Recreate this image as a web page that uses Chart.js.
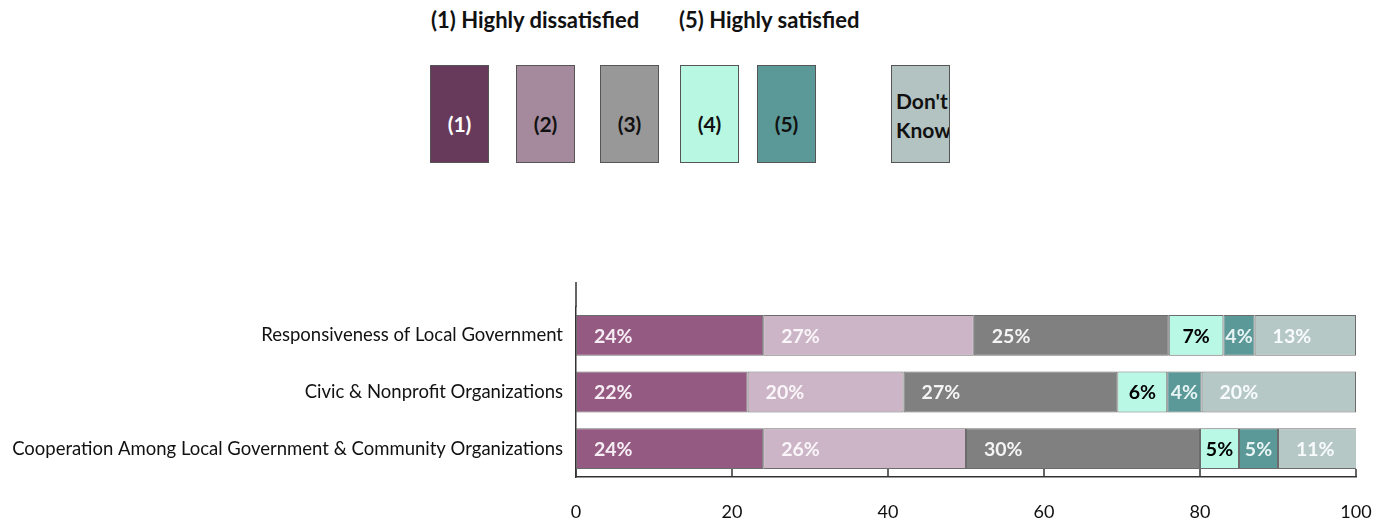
<!DOCTYPE html>
<html lang="en">
<head>
    <meta charset="UTF-8">
    <title>Satisfaction ratings</title>
    <script src="https://cdn.jsdelivr.net/npm/chart.js"></script>
    <style>
        html, body { margin: 0; padding: 0; background: #fff; }
        body { width: 1390px; height: 521px; position: relative; overflow: hidden; font-family: Lato, sans-serif; color: #111; }
        #chart-wrap { position: absolute; left: 0; top: 0; width: 1390px; height: 521px; }
        .scale-note { position: absolute; top: 9px; font-size: 22px; font-weight: bold; line-height: 22px; white-space: nowrap; }
        .key-box { position: absolute; top: 65px; width: 57px; height: 96px; border: 1px solid #555; box-sizing: content-box;
                   font-size: 21px; font-weight: bold; line-height: 22px; text-align: center; overflow: hidden; }
        .key-box span { display: block; padding-top: 47px; }
        .key-box.dk { text-align: left; }
        .key-box.dk span { padding-top: 20px; padding-left: 4px; line-height: 29px; }
    </style>
</head>
<body>

<div class="scale-note" style="left:431px">(1) Highly dissatisfied</div>
<div class="scale-note" style="left:679px">(5) Highly satisfied</div>
<div id="key"></div>

<div id="chart-wrap"><canvas id="rating-chart" width="1390" height="521"></canvas></div>

<script>
    // data
    const categories = [
        'Responsiveness of Local Government',
        'Civic & Nonprofit Organizations',
        'Cooperation Among Local Government & Community Organizations'
    ];
    const seriesNames = ['(1)', '(2)', '(3)', '(4)', '(5)', "Don't Know"];
    const rating1 = [24, 22, 24];
    const rating2 = [27, 20, 26];
    const rating3 = [25, 27.4, 30];
    const rating4 = [7, 6.4, 5];
    const rating5 = [4, 4.4, 5];
    const dontKnow = [13, 19.8, 11];
    const xTicks = [0, 20, 40, 60, 80, 100];

    // styles
    const barColors = ['#955a82', '#ccb5c7', '#808080', '#b8f8e4', '#5b9898', '#b6c8c6'];
    const keyColors = ['#673a5b', '#a48a9c', '#989898', '#b8f8e2', '#5b9898', '#b3c3c2'];
    const keyText = ['#fff', '#111', '#111', '#111', '#111', '#111'];
    const keyLeft = [430, 516, 600, 680, 757, 891];
    const labelColors = ['#f6eef4', '#faf6f9', '#f4f4f4', '#000', '#e8f4f4', '#f8fbfb'];

    const values = [rating1, rating2, rating3, rating4, rating5, dontKnow];

    // the key above the chart
    const key = document.getElementById('key');
    seriesNames.forEach((name, i) => {
        const box = document.createElement('div');
        box.className = 'key-box' + (i === 5 ? ' dk' : '');
        box.style.left = keyLeft[i] + 'px';
        box.style.background = keyColors[i];
        box.style.color = keyText[i];
        const span = document.createElement('span');
        span.innerHTML = i === 5 ? "Don't<br>Know" : name;
        box.appendChild(span);
        key.appendChild(box);
    });

    // labels on the bar segments
    const segmentLabels = {
        id: 'segmentLabels',
        afterDatasetsDraw(chart) {
            const ctx = chart.ctx;
            ctx.save();
            ctx.font = 'bold 19.5px Lato';
            ctx.textBaseline = 'middle';
            ctx.textAlign = 'left';
            chart.data.datasets.forEach((ds, di) => {
                const meta = chart.getDatasetMeta(di);
                meta.data.forEach((bar, i) => {
                    const v = ds.data[i];
                    const txt = Math.round(v) + '%';
                    const left = Math.min(bar.base, bar.x);
                    const right = Math.min(Math.max(bar.base, bar.x), chart.chartArea.right);
                    const w = right - left;
                    const tw = ctx.measureText(txt).width;
                    const inset = Math.max(0, Math.min((w - tw) / 2, 18));
                    ctx.fillStyle = labelColors[di];
                    ctx.fillText(txt, left + inset, bar.y + 1);
                });
            });
            ctx.restore();
        }
    };

    // y axis line runs a little above the top bar, x ticks point inwards
    const axisExtras = {
        id: 'axisExtras',
        afterDraw(chart) {
            const a = chart.chartArea;
            const xs = chart.scales.x;
            const ctx = chart.ctx;
            ctx.save();
            ctx.strokeStyle = '#333';
            ctx.lineWidth = 1.5;
            ctx.beginPath();
            ctx.moveTo(a.left, a.top - 25);
            ctx.lineTo(a.left, a.top);
            xTicks.forEach(v => {
                const px = xs.getPixelForValue(v);
                ctx.moveTo(px, a.bottom);
                ctx.lineTo(px, a.bottom - 8);
            });
            ctx.stroke();
            ctx.restore();
        }
    };

    const ctx = document.getElementById('rating-chart').getContext('2d');
    new Chart(ctx, {
        type: 'bar',
        data: {
            labels: categories,
            datasets: seriesNames.map((name, i) => ({
                label: name,
                data: values[i],
                backgroundColor: barColors[i],
                borderColor: '#6c6c6c',
                borderWidth: 1,
                borderSkipped: false,
                barPercentage: 0.72,
                categoryPercentage: 1
            }))
        },
        options: {
            indexAxis: 'y',
            responsive: false,
            animation: false,
            layout: { padding: { top: 307, right: 34, left: 0, bottom: 0 } },
            plugins: { legend: { display: false }, tooltip: { enabled: false } },
            scales: {
                x: {
                    stacked: true,
                    min: 0,
                    max: 100,
                    afterBuildTicks: scale => { scale.ticks = xTicks.map(v => ({ value: v })); },
                    afterFit: scale => { scale.height = 44; scale.paddingRight = 0; scale.paddingLeft = 0; },
                    grid: { display: false, drawTicks: false },
                    border: { color: '#333', width: 1.5 },
                    ticks: { color: '#111', font: { family: 'Lato', size: 18, lineHeight: 1.1 }, padding: 25 }
                },
                y: {
                    stacked: true,
                    afterFit: scale => { scale.width = 576; },
                    grid: { display: false, drawTicks: false },
                    border: { color: '#333', width: 1.5 },
                    ticks: { color: '#111', font: { family: 'Lato', size: 18.5 }, padding: 13 }
                }
            }
        },
        plugins: [segmentLabels, axisExtras]
    });
</script>
</body>
</html>
